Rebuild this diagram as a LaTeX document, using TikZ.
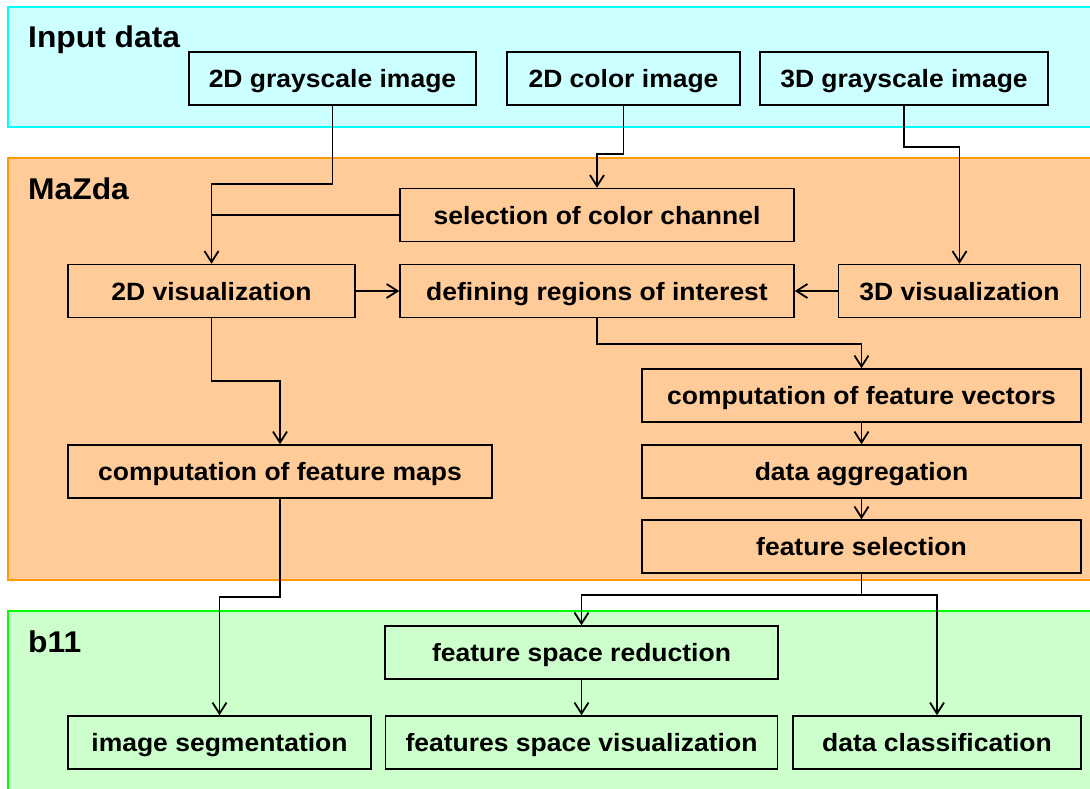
\documentclass[tikz,border=0pt]{standalone}
\usepackage{fontspec}
\setmainfont{Liberation Sans}
\newfontfamily\widesans{Liberation Sans}[FakeStretch=1.06]
\usepackage{tikz}
\usetikzlibrary{arrows.meta, positioning}
\definecolor{inline}{RGB}{0,255,255}
\definecolor{infill}{RGB}{204,255,255}
\definecolor{mzline}{RGB}{255,153,0}
\definecolor{mzfill}{RGB}{255,204,153}
\definecolor{bline}{RGB}{0,255,0}
\definecolor{bfill}{RGB}{204,255,204}
\newcommand{\flowfont}{\widesans\fontsize{25}{30}\selectfont\bfseries}
\newcommand{\panelfont}{\widesans\fontsize{30}{36}\selectfont\bfseries}
\tikzstyle{box}=[draw, line width=1.5pt, minimum height=53pt, inner sep=0pt, text height=18pt, text depth=0pt, font=\flowfont]
\tikzstyle{arr} = [line width=1.8pt,-{Straight Barb[length=11pt,width=14pt]}]
\tikzstyle{lnk} = [line width=1.8pt]
\tikzstyle{panel} = [line width=2.5pt]

\begin{document}
\begin{tikzpicture}[x=1pt, y=-1pt]
    \useasboundingbox (0,0) rectangle (1090,789);
    \clip (0,0) rectangle (1090,789);
    % areas
    \draw[panel, draw=inline, fill=infill] (8,7) rectangle (1100,127);
    \draw[panel, draw=mzline, fill=mzfill] (8,158) rectangle (1100,580);
    \draw[panel, draw=bline, fill=bfill] (8,611) rectangle (1100,800);
    \node [anchor=base west, inner sep=0pt, font=\panelfont] (tin) at (28,48) {Input data};
    \node [anchor=base west, inner sep=0pt, font=\panelfont] (tmz) at (28,199) {MaZda};
    \node [anchor=base west, inner sep=0pt, font=\panelfont] (tb) at (28,652) {b11};

    % input data
    \node [box, minimum width=287pt] (gray2d) at (332.5,78.5) {2D grayscale image};
    \node [box, minimum width=233pt] (color2d) at (623.5,78.5) {2D color image};
    \node [box, minimum width=288pt] (gray3d) at (904,78.5) {3D grayscale image};

    % MaZda
    \node [box, minimum width=394pt] (selcol) at (597,215) {selection of color channel};
    \node [box, minimum width=287pt] (vis2d) at (211.5,291) {2D visualization};
    \node [box, minimum width=394pt] (roi) at (597,291) {defining regions of interest};
    \node [box, minimum width=242pt] (vis3d) at (959.5,291) {3D visualization};
    \node [box, minimum width=439pt] (fvec) at (861.5,395.5) {computation of feature vectors};
    \node [box, minimum width=439pt] (aggr) at (861.5,471.5) {data aggregation};
    \node [box, minimum width=439pt] (fsel) at (861.5,546.5) {feature selection};
    \node [box, minimum width=424pt] (fmaps) at (280,471.5) {computation of feature maps};

    % b11
    \node [box, minimum width=393pt] (fsred) at (581.5,652.5) {feature space reduction};
    \node [box, minimum width=303pt] (segm) at (219.5,742.5) {image segmentation};
    \node [box, minimum width=392pt] (fsvis) at (581.5,742.5) {features space visualization};
    \node [box, minimum width=288pt] (classif) at (937,742.5) {data classification};

    \draw[arr] (gray2d.south) -- ++(0,78) -| (vis2d.north);
    \draw[lnk] (selcol.west) -- (vis2d.north |- selcol.west);
    \draw[arr] (color2d.south) -- ++(0,48) -| (selcol.north);
    \draw[arr] (gray3d.south) -- ++(0,41) -| (vis3d.north);
    \path (vis3d.west) edge[arr] (roi.east);
    \path (vis2d.east) edge[arr] (roi.west);
    \draw[arr] (roi.south) -- ++(0,26) -| (fvec.north);
    \path (fvec.south) edge[arr] (aggr.north);
    \path (aggr.south) edge[arr] (fsel.north);
    \draw[arr] (vis2d.south) -- ++(0,63) -| (fmaps.north);
    \draw[arr] (fmaps.south) -- ++(0,98) -| (segm.north);
    \draw[arr] (fsel.south) -- ++(0,21) -| (fsred.north);
    \draw[arr] (fsel.south) -- ++(0,21) -| (classif.north);
    \path (fsred.south) edge[arr] (fsvis.north);
\end{tikzpicture}
\end{document}
